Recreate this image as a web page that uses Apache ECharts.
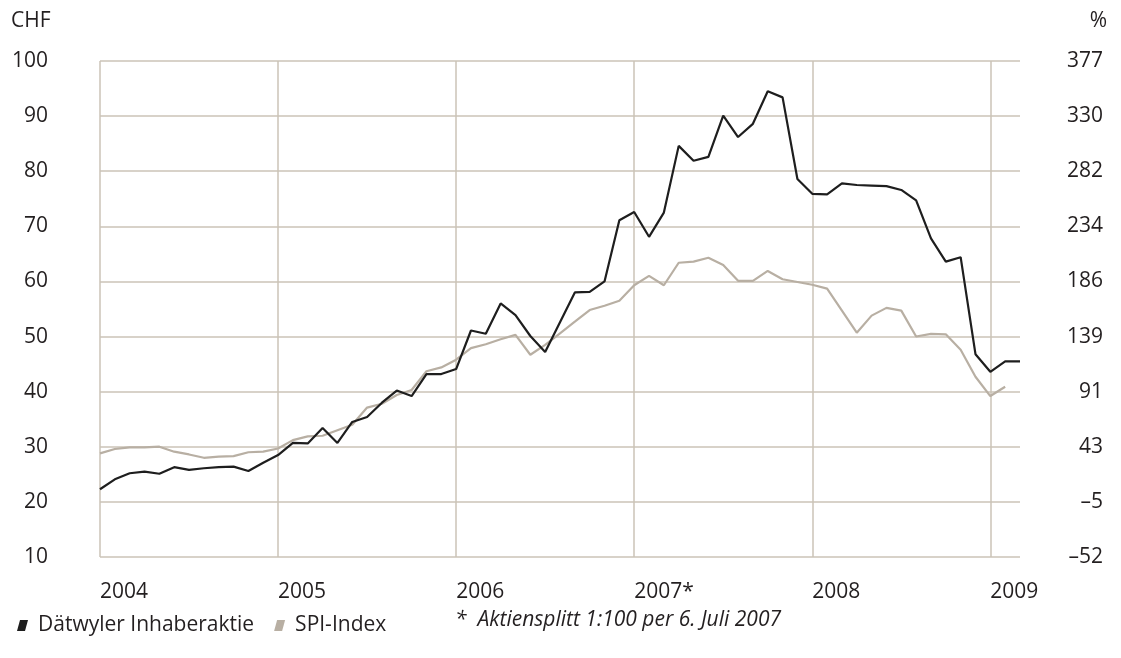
<!DOCTYPE html>
<html>
<head>
<meta charset="utf-8">
<script src="https://cdn.jsdelivr.net/npm/echarts@6/dist/echarts.min.js"></script>
<style>
  html, body { margin: 0; padding: 0; background: #fff; }
  #chart { width: 1121px; height: 658px; }
</style>
</head>
<body>
<div id="chart"></div>
<script>
// Monatswerte Jan 2004 - Mär 2009
const months = [
  '2004-01', '2004-02', '2004-03', '2004-04', '2004-05', '2004-06', '2004-07', '2004-08', '2004-09', '2004-10', '2004-11', '2004-12',
  '2005-01', '2005-02', '2005-03', '2005-04', '2005-05', '2005-06', '2005-07', '2005-08', '2005-09', '2005-10', '2005-11', '2005-12',
  '2006-01', '2006-02', '2006-03', '2006-04', '2006-05', '2006-06', '2006-07', '2006-08', '2006-09', '2006-10', '2006-11', '2006-12',
  '2007-01', '2007-02', '2007-03', '2007-04', '2007-05', '2007-06', '2007-07', '2007-08', '2007-09', '2007-10', '2007-11', '2007-12',
  '2008-01', '2008-02', '2008-03', '2008-04', '2008-05', '2008-06', '2008-07', '2008-08', '2008-09', '2008-10', '2008-11', '2008-12',
  '2009-01', '2009-02', '2009-03'
]
const yearLabels = ['2004', '2005', '2006', '2007*', '2008', '2009']

// Dätwyler Inhaberaktie, CHF (linke Achse)
const daetwyler = [
  22.3, 24.1, 25.2, 25.5, 25.1, 26.3, 25.8, 26.1, 26.3, 26.4, 25.6, 27.1,
  28.5, 30.7, 30.6, 33.4, 30.7, 34.5, 35.4, 38.0, 40.2, 39.2, 43.2, 43.2,
  44.1, 51.1, 50.5, 56.0, 53.9, 50.1, 47.2, 52.6, 58.0, 58.1, 60.0, 71.1,
  72.6, 68.1, 72.5, 84.6, 81.9, 82.6, 90.1, 86.2, 88.6, 94.5, 93.4, 78.6,
  75.9, 75.8, 77.8, 77.5, 77.4, 77.3, 76.6, 74.7, 67.8, 63.6, 64.4, 46.8,
  43.6, 45.5, 45.5
]

// SPI-Index, % (rechte Achse)
const spi = [
  37.0, 40.8, 42.3, 42.3, 42.8, 38.5, 36.1, 33.2, 34.2, 34.6, 38.0, 38.5,
  41.3, 48.5, 51.8, 52.3, 57.1, 61.9, 76.7, 80.0, 87.6, 91.9, 108.2, 111.5,
  118.2, 128.2, 131.6, 135.9, 139.7, 122.5, 131.1, 141.1, 151.1, 161.2, 165.0, 169.3,
  182.7, 190.8, 182.7, 202.2, 203.2, 206.5, 200.3, 186.5, 186.5, 195.1, 187.9, 185.5,
  183.1, 179.8, 160.7, 141.6, 156.4, 163.1, 160.7, 138.3, 140.6, 140.2, 126.8, 103.4,
  86.7, 94.8
]

const rightTicks = ['–52', '–5', '43', '91', '139', '186', '234', '282', '330', '377']

const gridColor = '#cbc3b7'
const textColor = '#231f20'
const font = 'Open Sans'
const fs = 21

const chart = echarts.init(document.getElementById('chart'))

chart.setOption({
  animation: false,
  grid: { left: 100, right: 101, top: 61, bottom: 101 },
  legend: {
    left: 12,
    top: 610,
    itemWidth: 11,
    itemHeight: 11,
    itemGap: 20,
    icon: 'path://M3,0 L11,0 L8,11 L0,11 Z',
    textStyle: { color: textColor, fontSize: fs, fontFamily: font, padding: [0, 0, 0, 5] },
    data: ['Dätwyler Inhaberaktie', 'SPI-Index']
  },
  graphic: [
    { type: 'text', left: 11, top: 11, style: { text: 'CHF', fontSize: fs, fontFamily: font, fill: textColor } },
    { type: 'text', right: 14, top: 11, style: { text: '%', fontSize: fs, fontFamily: font, fill: textColor } },
    {
      type: 'text', left: 455, top: 610,
      style: { text: '*  Aktiensplitt 1:100 per 6. Juli 2007', fontSize: fs, fontStyle: 'italic', fontFamily: font, fill: textColor }
    }
  ],
  xAxis: {
    type: 'category',
    data: months,
    boundaryGap: false,
    axisLine: { show: false },
    axisTick: { show: false },
    axisLabel: {
      interval: (i) => i % 12 === 0,
      formatter: (v, i) => yearLabels[i / 12],
      align: 'left',
      margin: 25,
      color: textColor,
      fontSize: fs,
      fontFamily: font
    },
    splitLine: {
      show: true,
      interval: (i) => i % 12 === 0,
      lineStyle: { color: gridColor, width: 1.5 }
    }
  },
  yAxis: [
    {
      type: 'value',
      min: 10,
      max: 100,
      interval: 10,
      axisLine: { show: false },
      axisTick: { show: false },
      axisLabel: { margin: 52, color: textColor, fontSize: fs, fontFamily: font },
      splitLine: { lineStyle: { color: gridColor, width: 1.5 } }
    },
    {
      type: 'value',
      min: -52.75,
      max: 377,
      interval: 47.75,
      axisLine: { show: false },
      axisTick: { show: false },
      splitLine: { show: false },
      axisLabel: {
        formatter: (v) => rightTicks[Math.round((v + 52.75) / 47.75)],
        align: 'right',
        margin: 83,
        color: textColor,
        fontSize: fs,
        fontFamily: font
      }
    }
  ],
  series: [
    {
      name: 'SPI-Index',
      type: 'line',
      yAxisIndex: 1,
      data: spi,
      symbol: 'none',
      color: '#b8afa3',
      lineStyle: { width: 2.2, color: '#b8afa3' }
    },
    {
      name: 'Dätwyler Inhaberaktie',
      type: 'line',
      yAxisIndex: 0,
      data: daetwyler,
      symbol: 'none',
      color: '#1e1e1e',
      lineStyle: { width: 2.2, color: '#1e1e1e' }
    }
  ]
})
</script>
</body>
</html>
